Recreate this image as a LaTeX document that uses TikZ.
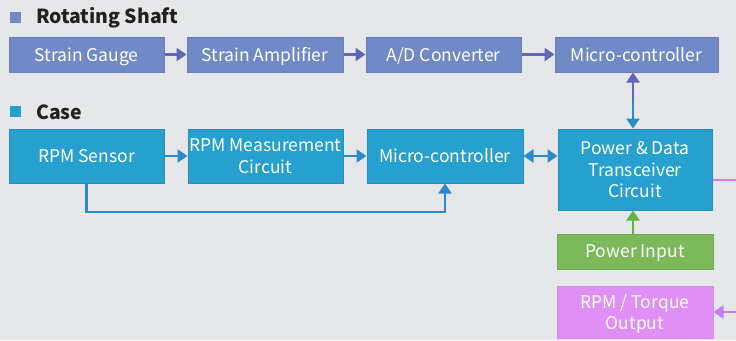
\documentclass[tikz,border=0pt]{standalone}
\usepackage{fontspec}
\setmainfont{Noto Sans CJK KR}
\usetikzlibrary{arrows.meta}
\definecolor{bgc}{HTML}{E6E7E9}
\definecolor{shaftfill}{HTML}{6F8AC6}
\definecolor{shaftline}{HTML}{6A7CC2}
\definecolor{shaftarr}{HTML}{5F68B8}
\definecolor{casefill}{HTML}{26A0CF}
\definecolor{casearr}{HTML}{2B8ACB}
\definecolor{pifill}{HTML}{7BB95A}
\definecolor{piarr}{HTML}{66B045}
\definecolor{outfill}{HTML}{E08FF6}
\definecolor{outline}{HTML}{D38AF2}
\definecolor{outarr}{HTML}{C97CF0}
\definecolor{titlec}{HTML}{222222}
\tikzset{
  box/.style={draw, line width=1pt, inner sep=0pt, text=white, align=center, text depth=0pt, font=\fontsize{17.5}{21.5}\selectfont},
  shaftbox/.style={box, fill=shaftfill, draw=shaftline, minimum height=35pt},
  casebox/.style={box, fill=casefill, draw=casefill!90!black, minimum height=54pt},
  arr/.style={line width=2.5pt, -{Triangle[length=10pt,width=13pt]}},
  darr/.style={line width=2.5pt, {Triangle[length=10pt,width=13pt]}-{Triangle[length=10pt,width=13pt]}},
  ttl/.style={anchor=west, text=titlec, font=\bfseries\fontsize{19.4}{22}\selectfont, inner sep=0pt},
}
\begin{document}
\begin{tikzpicture}[x=1pt,y=-1pt]
\useasboundingbox (0,0) rectangle (736,340);
\fill[bgc] (0,0) rectangle (736,340);
% titles
\node[fill=shaftfill, minimum size=11.5pt, inner sep=0pt] (sq1) at (15.5,17.5) {};
\node[ttl] (t1) at (36,18) {Rotating Shaft};
\node[fill=casefill, minimum size=11.5pt, inner sep=0pt] (sq2) at (15.5,111.5) {};
\node[ttl] (t2) at (36,112) {Case};
% top row
\node[shaftbox, minimum width=155pt] (sg) at (86.5,54.5) {Strain Gauge};
\node[shaftbox, minimum width=156pt] (sa) at (265,54.5) {Strain Amplifier};
\node[shaftbox, minimum width=155pt] (ad) at (443.5,54.5) {A/D Converter};
\node[shaftbox, minimum width=163pt] (mc1) at (636.5,54.5) {Micro-controller};
% case row
\node[casebox, minimum width=155pt] (rs) at (86.5,156) {RPM Sensor};
\node[casebox, minimum width=155pt] (rm) at (265.5,156) {RPM Measurement\\Circuit};
\node[casebox, minimum width=156pt] (mc2) at (445,156) {Micro-controller};
\node[casebox, minimum width=154pt, minimum height=81pt] (tr) at (635,169.5) {Power \& Data\\Transceiver\\Circuit};
\node[box, fill=pifill, draw=pifill!92!black, minimum width=156pt, minimum height=35pt] (pi) at (635,251.5) {Power Input};
\node[box, fill=outfill, draw=outline, minimum width=156pt, minimum height=52pt] (out) at (635,312) {RPM / Torque\\Output};
% connectors top
\draw[arr, shaftarr] (sg) -- (sa);
\draw[arr, shaftarr] (sa) -- (ad);
\draw[arr, shaftarr] (ad) -- (mc1);
% vertical two-colour double arrow
\coordinate (mid) at (633,100);
\draw[arr, shaftarr] (mid) -- (mid |- mc1.south);
\draw[arr, casearr] (mid) -- (mid |- tr.north);
% case connectors
\draw[arr, casearr] (rs) -- (rm);
\draw[arr, casearr] (rm) -- (mc2);
\draw[darr, casearr] (mc2) -- (tr.west |- mc2);
\coordinate (bend) at (446,212);
\draw[arr, casearr] (rs.south) |- (mc2.south |- bend) -- (mc2.south);
% power input
\draw[arr, piarr] (pi.north -| mid) -- (tr.south -| mid);
% output
\coordinate (far) at (760,180);
\draw[arr, outarr] (tr.east |- far) -- (far) |- (out.east);
\end{tikzpicture}
\end{document}
